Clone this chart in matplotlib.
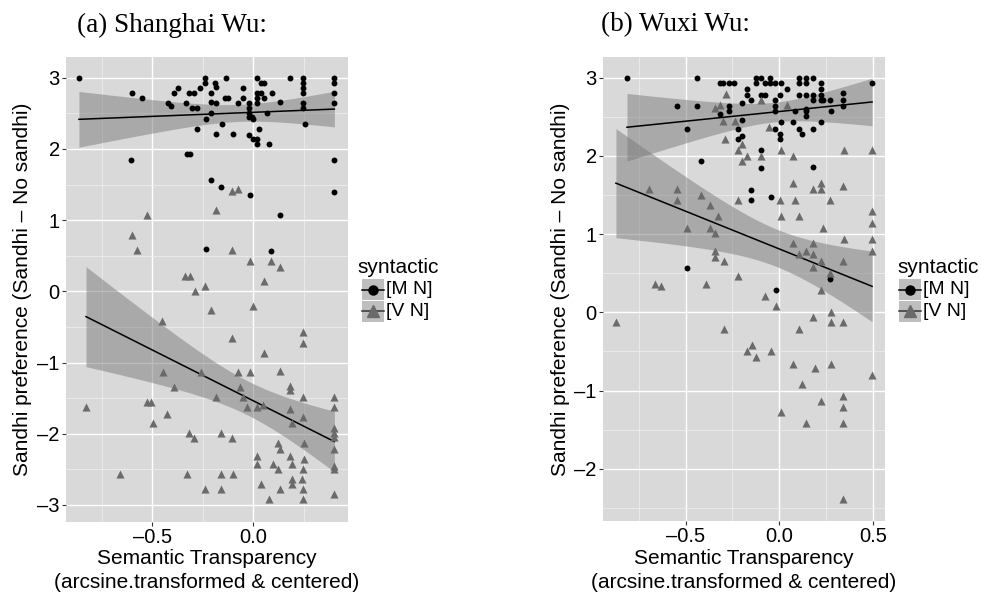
import numpy as np
import matplotlib
matplotlib.use("Agg")
import matplotlib.pyplot as plt
from matplotlib.patches import Rectangle
from matplotlib.lines import Line2D

# ---------------- data ----------------
# (a) Shanghai Wu, [M N]
sh_mn_x = [-0.863, -0.602, -0.553, -0.607, -0.421, -0.408, -0.391, -0.371, -0.335, -0.318,
           -0.292, -0.302, -0.281, -0.281, -0.264, -0.239, -0.239, -0.236, -0.211, -0.211,
           -0.211, -0.190, -0.186, -0.186, -0.185, -0.157, -0.140, -0.127, -0.135, -0.099,
           -0.078, -0.050, -0.050, -0.020, -0.020, -0.020, -0.020, -0.008, 0.000, -0.020,
           -0.003, 0.017, 0.017, 0.017, 0.017, 0.017, 0.017, 0.038, 0.038, 0.053,
           0.053, 0.030, 0.066, 0.091, 0.078, 0.132, 0.182, 0.248, 0.248, 0.248,
           0.248, 0.248, 0.248, 0.256, 0.401, 0.401, 0.401, 0.401, 0.401, 0.401,
           -0.330, -0.314, -0.211, -0.160, -0.017, 0.132, -0.236, 0.087]
sh_mn_y = [3.00, 2.78, 2.71, 1.85, 2.64, 2.60, 2.78, 2.85, 2.64, 2.78,
           2.78, 2.57, 2.57, 2.28, 2.85, 3.00, 2.93, 2.42, 2.78, 2.66,
           2.50, 2.92, 2.87, 2.64, 2.21, 2.35, 2.71, 2.71, 3.00, 2.21,
           2.64, 2.86, 2.71, 2.64, 2.57, 2.50, 2.45, 2.45, 2.42, 2.20,
           2.14, 3.00, 2.78, 2.71, 2.64, 2.14, 2.07, 2.78, 2.93, 2.93,
           2.71, 2.28, 2.50, 2.78, 2.07, 2.66, 3.00, 3.00, 2.93, 2.85,
           2.78, 2.64, 2.57, 2.35, 3.00, 2.93, 2.78, 2.64, 1.85, 1.40,
           1.93, 1.93, 1.56, 1.47, 1.35, 1.07, 0.59, 0.57]

# (a) Shanghai Wu, [V N]
sh_vn_x = [-0.107, -0.078, -0.186, -0.525, -0.599, -0.576, -0.106, -0.017, 0.089, 0.132,
           -0.337, -0.314, -0.238, -0.287, 0.053, 0.000, -0.211, -0.452, -0.107, 0.248,
           0.248, 0.051, -0.446, -0.261, -0.078, -0.017, 0.132, -0.393, -0.066, 0.182,
           0.182, -0.186, -0.050, 0.248, 0.401, 0.401, -0.828, -0.528, -0.507, -0.033,
           0.017, 0.050, 0.182, -0.429, -0.497, 0.244, 0.190, 0.401, 0.401, 0.401,
           -0.317, -0.292, -0.160, -0.107, 0.252, 0.124, 0.132, 0.401, 0.017, 0.017,
           0.182, 0.252, 0.099, 0.124, 0.190, 0.248, 0.401, 0.401, -0.658, -0.328,
           -0.160, -0.099, 0.190, 0.190, 0.243, 0.036, -0.239, -0.160, 0.132, 0.248,
           0.078, 0.244, 0.401]
sh_vn_y = [1.41, 1.43, 1.14, 1.07, 0.79, 0.58, 0.58, 0.43, 0.43, 0.34,
           0.22, 0.22, 0.08, 0.01, 0.15, -0.21, -0.26, -0.42, -0.66, -0.57,
           -0.72, -0.86, -1.14, -1.14, -1.14, -1.14, -1.12, -1.35, -1.35, -1.33,
           -1.39, -1.49, -1.49, -1.49, -1.49, -1.63, -1.63, -1.56, -1.56, -1.63,
           -1.63, -1.59, -1.66, -1.72, -1.85, -1.77, -1.85, -1.92, -1.99, -2.04,
           -1.99, -2.06, -1.99, -2.06, -2.13, -2.13, -2.21, -2.21, -2.32, -2.42,
           -2.32, -2.35, -2.43, -2.50, -2.43, -2.50, -2.46, -2.50, -2.57, -2.57,
           -2.57, -2.57, -2.64, -2.70, -2.64, -2.71, -2.78, -2.78, -2.78, -2.78,
           -2.92, -2.92, -2.85]

# (b) Wuxi Wu, [M N]
wx_mn_x = [-0.813, -0.441, -0.546, -0.441, -0.493, -0.416, -0.318, -0.301, -0.270, -0.244,
           -0.318, -0.270, -0.270, -0.222, -0.222, -0.198, -0.198, -0.198, -0.173, -0.173,
           -0.149, -0.125, -0.100, -0.125, -0.075, -0.048, -0.048, -0.021, 0.011, -0.100,
           -0.075, -0.021, -0.021, -0.021, 0.002, 0.041, -0.025, 0.002, 0.002, 0.011,
           0.071, 0.085, 0.105, 0.105, 0.141, 0.141, 0.180, 0.105, 0.141, 0.180,
           0.105, 0.119, 0.141, 0.141, 0.141, 0.180, 0.180, 0.222, 0.222, 0.222,
           0.222, 0.233, 0.222, 0.272, 0.276, 0.340, 0.340, 0.340, 0.495, -0.100,
           -0.100, -0.149, -0.149, -0.044, 0.180, -0.493, -0.018, 0.272]
wx_mn_y = [3.00, 3.00, 2.64, 2.64, 2.35, 1.93, 2.93, 2.93, 2.93, 2.93,
           2.54, 2.64, 2.57, 2.35, 2.21, 2.67, 2.46, 2.26, 2.85, 2.78,
           2.71, 3.00, 3.00, 2.93, 2.93, 3.00, 2.93, 2.93, 2.93, 2.78,
           2.78, 2.71, 2.64, 2.57, 2.78, 2.85, 2.35, 2.28, 2.21, 2.43,
           2.43, 2.57, 3.00, 2.93, 3.00, 2.93, 3.00, 2.78, 2.78, 2.78,
           2.35, 2.28, 2.60, 2.57, 2.51, 2.71, 2.35, 2.93, 2.85, 2.78,
           2.71, 2.71, 2.43, 2.72, 2.57, 2.80, 2.71, 2.64, 2.93, 2.07,
           1.85, 1.57, 1.43, 1.47, 1.86, 0.57, 0.29, 0.43]

# (b) Wuxi Wu, [V N]
wx_vn_x = [-0.285, -0.318, -0.345, -0.301, -0.238, -0.292, -0.100, -0.053, 0.041, -0.198,
           -0.222, -0.173, -0.198, -0.100, 0.011, 0.071, 0.343, 0.495, 0.071, 0.180,
           0.222, 0.222, 0.340, -0.694, -0.546, -0.546, -0.416, -0.368, -0.329, -0.222,
           0.002, 0.085, 0.272, 0.011, 0.105, -0.493, -0.368, -0.345, 0.233, 0.495,
           0.495, 0.495, 0.495, 0.343, -0.345, -0.345, -0.294, 0.071, 0.141, 0.180,
           0.180, 0.103, 0.222, 0.180, 0.340, 0.272, -0.222, 0.222, -0.075, -0.662,
           -0.632, -0.391, -0.018, -0.872, -0.297, 0.180, 0.276, 0.276, 0.340, 0.105,
           -0.146, -0.174, -0.123, -0.046, 0.071, 0.190, 0.276, 0.495, 0.119, 0.340,
           0.224, 0.340, 0.011, 0.142, 0.340, 0.340]
wx_vn_y = [2.79, 2.65, 2.61, 2.44, 2.44, 2.22, 2.71, 2.37, 2.65, 2.15,
           2.08, 2.00, 1.94, 2.00, 2.08, 2.00, 2.08, 2.08, 1.65, 1.58,
           1.58, 1.65, 1.61, 1.58, 1.58, 1.43, 1.50, 1.37, 1.23, 1.43,
           1.43, 1.43, 1.43, 1.23, 1.23, 1.08, 1.08, 1.01, 1.08, 1.29,
           1.14, 0.94, 0.79, 0.94, 0.79, 0.71, 0.66, 0.88, 0.79, 0.88,
           0.74, 0.74, 0.65, 0.58, 0.65, 0.50, 0.47, 0.28, 0.21, 0.36,
           0.34, 0.36, 0.08, -0.13, -0.21, -0.06, 0.00, -0.13, -0.12, -0.21,
           -0.42, -0.49, -0.57, -0.49, -0.66, -0.71, -0.66, -0.80, -0.92, -1.07,
           -1.13, -1.21, -1.28, -1.42, -1.42, -2.39]

# fitted lines: (value at x = 0, slope)
sh_mn_fit = (2.514, 0.114)
sh_vn_fit = (-1.538, -1.428)
wx_mn_fit = (2.567, 0.247)
wx_vn_fit = (0.810, -0.965)

groups = ["[M N]", "[V N]"]
titles = ["(a) Shanghai Wu:", "(b) Wuxi Wu:"]
y_label = "Sandhi preference (Sandhi \u2013 No sandhi)"
x_label1 = "Semantic Transparency"
x_label2 = "(arcsine.transformed & centered)"
legend_title = "syntactic"

# ---------------- styling ----------------
W, H = 981, 594
SANS = ["Liberation Sans", "DejaVu Sans"]
SERIF = ["Liberation Serif", "DejaVu Serif"]
plt.rcParams["font.family"] = SANS
PANEL_BG = "#D9D9D9"
BAND_FC = "#7A7A7A"
BAND_ALPHA = 0.5
TRI_C = "#6A6A6A"

fig = plt.figure(figsize=(W / 100, H / 100), dpi=100)


def ax_rect(l, t, r, b):
    return [l / W, 1 - b / H, (r - l) / W, (b - t) / H]


def band(x, y, coef):
    """Confidence band (95%) around the line, using the data spread."""
    x = np.asarray(x, float)
    y = np.asarray(y, float)
    n = len(x)
    b0, b1 = coef
    xs = np.linspace(x.min(), x.max(), 100)
    yh = b0 + b1 * xs
    resid = y - (b0 + b1 * x)
    s = np.sqrt(np.sum(resid ** 2) / (n - 2))
    xb = x.mean()
    se = s * np.sqrt(1.0 / n + (xs - xb) ** 2 / np.sum((x - xb) ** 2))
    t = 1.99
    return xs, yh, yh - t * se, yh + t * se


def fmt(v, d):
    s = ("%." + str(d) + "f") % v
    return s.replace("-", "\u2013")


def panel(rect, mn, vn, fits, xlim, ylim, yticks, xticks):
    ax = fig.add_axes(rect)
    ax.set_facecolor(PANEL_BG)
    for s in ax.spines.values():
        s.set_visible(False)
    ax.set_xlim(*xlim)
    ax.set_ylim(*ylim)
    ax.set_xticks(xticks)
    ax.set_xticklabels([fmt(v, 1) for v in xticks])
    ax.set_yticks(yticks)
    ax.set_yticklabels([fmt(v, 0) for v in yticks])
    ax.set_xticks([-0.75, -0.25, 0.25], minor=True)
    ax.set_yticks(np.arange(-2.5, 3.0, 1.0), minor=True)
    ax.grid(which="major", color="white", lw=1.0, zorder=0)
    ax.grid(which="minor", color="#EDEDED", lw=0.6, zorder=0)
    ax.set_axisbelow(True)
    ax.tick_params(which="major", length=3, width=0.8, color="#333333",
                   labelsize=14.5, labelcolor="black", pad=1.5)
    ax.tick_params(which="minor", length=0)
    for (x, y), coef in zip((mn, vn), fits):
        xs, yh, lo, hi = band(x, y, coef)
        ax.fill_between(xs, lo, hi, color=BAND_FC, alpha=BAND_ALPHA, lw=0, zorder=2)
        ax.plot(xs, yh, color="black", lw=1.1, zorder=3)
    ax.scatter(mn[0], mn[1], s=18, marker="o", color="black", lw=0, zorder=4)
    ax.scatter(vn[0], vn[1], s=34, marker="^", color=TRI_C, lw=0, zorder=4)
    return ax


axL = panel(ax_rect(66, 57, 347.7, 521.7), (sh_mn_x, sh_mn_y), (sh_vn_x, sh_vn_y),
            (sh_mn_fit, sh_vn_fit),
            (-0.927, 0.467), (-3.236, 3.291), list(range(-3, 4)), [-0.5, 0.0])
axR = panel(ax_rect(603, 56.7, 885, 520.7), (wx_mn_x, wx_mn_y), (wx_vn_x, wx_vn_y),
            (wx_mn_fit, wx_vn_fit),
            (-0.941, 0.564), (-2.664, 3.268), list(range(-2, 4)), [-0.5, 0.0, 0.5])


def ftext(px, py, s, **kw):
    fig.text(px / W, 1 - py / H, s, **kw)


# titles
ftext(77, 25, titles[0], family=SERIF, fontsize=19.5, ha="left", va="center")
ftext(601, 25, titles[1], family=SERIF, fontsize=19.5, ha="left", va="center")

# axis labels
for cx, ly, cy in ((207, 23, 289), (744, 561, 289)):
    ftext(cx, 559, x_label1, fontsize=15, ha="center", va="center")
    ftext(cx, 583, x_label2, fontsize=15, ha="center", va="center")
    ftext(ly, cy, y_label, fontsize=15, ha="center", va="center", rotation=90)


# legends
def legend(tx, kx, kw=22.3):
    ftext(tx, 268, legend_title, fontsize=15, ha="left", va="center")
    tops = [279, 300.5]
    kh = 21.5
    for i, top in enumerate(tops):
        fx, fy = kx / W, 1 - (top + kh) / H
        fig.add_artist(Rectangle((fx, fy), kw / W, kh / H, transform=fig.transFigure,
                                 facecolor="#BEBEBE", edgecolor="none"))
        yc = 1 - (top + kh / 2) / H
        lc = "black" if i == 0 else "#333333"
        fig.add_artist(Line2D([kx / W, (kx + kw) / W], [yc, yc], transform=fig.transFigure,
                              color=lc, lw=1.1))
        if i == 0:
            fig.add_artist(Line2D([(kx + kw / 2) / W], [yc], transform=fig.transFigure,
                                  marker="o", ms=6.5, color="black", lw=0))
        else:
            fig.add_artist(Line2D([(kx + kw / 2) / W], [yc], transform=fig.transFigure,
                                  marker="^", ms=9, color=TRI_C, lw=0))
        ftext(kx + kw + 2, top + kh / 2, groups[i], fontsize=14, ha="left", va="center")


legend(357, 361.7)
legend(897, 899)

fig.savefig("out.png", dpi=100)
